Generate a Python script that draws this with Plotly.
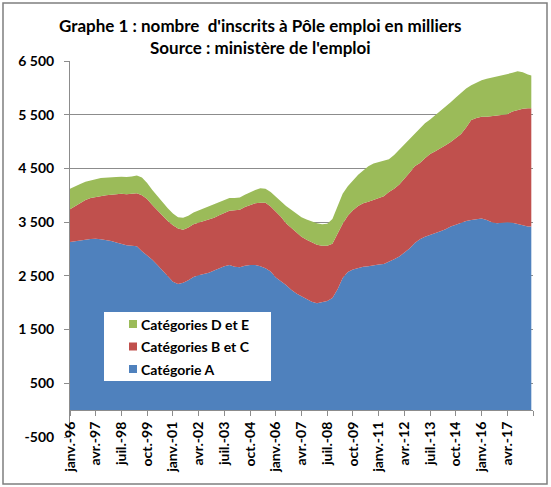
import plotly.graph_objects as go
import pandas as pd

# trimestriel, janv. 1996 -> avr. 2018, plus juin 2018 (en milliers)
dates = list(pd.date_range("1996-01-01", periods=90, freq="QS")) + [pd.Timestamp("2018-06-01")]

cat_a = [3130, 3140, 3160, 3170, 3185, 3190, 3180, 3165, 3150, 3120,
         3090, 3070, 3060, 3050, 2960, 2880, 2800, 2700, 2600, 2480,
         2390, 2350, 2370, 2420, 2480, 2510, 2530, 2560, 2600, 2640,
         2680, 2700, 2670, 2660, 2690, 2700, 2700, 2680, 2640, 2580,
         2470, 2400, 2330, 2240, 2170, 2120, 2070, 2020, 1990, 2010,
         2030, 2090, 2250, 2460, 2570, 2620, 2650, 2670, 2680, 2700,
         2710, 2720, 2760, 2810, 2860, 2930, 3010, 3110, 3180, 3230,
         3260, 3300, 3330, 3370, 3420, 3450, 3490, 3520, 3540, 3560,
         3570, 3540, 3500, 3480, 3490, 3500, 3490, 3460, 3440, 3420,
         3420]
cat_bc = [610, 660, 700, 740, 765, 780, 810, 835, 860, 900,
          940, 950, 970, 990, 1040, 1050, 1020, 1020, 1020, 1040,
          1050, 1030, 990, 980, 980, 980, 990, 990, 980, 990,
          990, 1010, 1050, 1070, 1090, 1120, 1150, 1180, 1220, 1210,
          1230, 1200, 1150, 1160, 1150, 1110, 1100, 1100, 1090, 1050,
          1030, 1010, 1050, 1010, 1050, 1100, 1150, 1180, 1200, 1210,
          1230, 1260, 1300, 1310, 1340, 1370, 1410, 1430, 1420, 1460,
          1510, 1520, 1540, 1560, 1570, 1610, 1650, 1740, 1860, 1880,
          1890, 1920, 1970, 2000, 2000, 2010, 2070, 2130, 2170, 2200,
          2200]
cat_de = [380, 370, 350, 340, 330, 330, 330, 330, 325, 320,
          315, 320, 320, 330, 330, 300, 280, 260, 240, 240,
          220, 210, 220, 220, 220, 230, 240, 250, 250, 240,
          240, 240, 230, 230, 230, 240, 250, 270, 260, 270,
          270, 270, 320, 330, 340, 360, 380, 390, 400, 400,
          410, 460, 500, 560, 550, 560, 580, 610, 660, 680,
          680, 660, 610, 630, 650, 650, 630, 620, 660, 650,
          640, 670, 690, 710, 740, 760, 770, 730, 650, 660,
          680, 710, 720, 730, 740, 740, 720, 720, 680, 630,
          610]

x_tick_dates = list(pd.date_range("1996-01-01", periods=19, freq="15MS"))
x_tick_labels = ["janv.-96", "avr.-97", "juil.-98", "oct.-99", "janv.-01", "avr.-02",
                 "juil.-03", "oct.-04", "janv.-06", "avr.-07", "juil.-08", "oct.-09",
                 "janv.-11", "avr.-12", "juil.-13", "oct.-14", "janv.-16", "avr.-17", ""]
y_ticks = [-500, 500, 1500, 2500, 3500, 4500, 5500, 6500]
y_tick_labels = ["-500", "500", "1 500", "2 500", "3 500", "4 500", "5 500", "6 500"]

title_lines = ["Graphe 1 : nombre  d'inscrits à Pôle emploi en milliers",
               "Source : ministère de l'emploi"]

series = [("Catégorie A", cat_a, "#4F81BD"),
          ("Catégories B et C", cat_bc, "#C0504D"),
          ("Catégories D et E", cat_de, "#9BBB59")]

# conversion pixels -> repère "paper" (zone de tracé 70..533 x 61..437)
def px(x):
    return (x - 70) / 463

def py(y):
    return (437 - y) / 376

fig = go.Figure()
for name, vals, col in series:
    fig.add_trace(go.Scatter(x=dates, y=vals, stackgroup="one", mode="lines",
                             name=name, line=dict(width=0, color=col), fillcolor=col,
                             showlegend=False, hoverinfo="skip"))

grid = "#8C8C8C"
shapes = [dict(type="rect", xref="paper", yref="paper",
               x0=px(3), x1=px(547), y0=py(484), y1=py(3),
               line=dict(color="#7F7F7F", width=1.5), layer="above"),
          dict(type="rect", xref="paper", yref="paper",
               x0=px(104), x1=px(271), y0=py(381), y1=py(312),
               fillcolor="white", line=dict(width=0), layer="above")]

# légende : D et E en haut, A en bas
for i, (name, vals, col) in enumerate(reversed(series)):
    yc = 324 + 22.5 * i
    shapes.append(dict(type="rect", xref="paper", yref="paper",
                       x0=px(129), x1=px(137), y0=py(yc + 4), y1=py(yc - 4),
                       fillcolor=col, line=dict(width=0), layer="above"))
    fig.add_annotation(text=f"<b>{name}</b>", xref="paper", yref="paper",
                       x=px(138.5), y=py(yc), xanchor="left", yanchor="middle",
                       showarrow=False, font=dict(size=14, family="Lato"))

fig.update_layout(
    width=551, height=487,
    margin=dict(l=70, r=18, t=61, b=50),
    paper_bgcolor="white", plot_bgcolor="white",
    font=dict(family="Lato", color="black"),
    showlegend=False,
    xaxis=dict(type="date", range=["1996-01-01", "2018-07-01"],
               anchor="free", position=500 / 7000,
               showgrid=False, zeroline=False,
               showline=True, linecolor=grid, linewidth=1,
               ticks="outside", ticklen=5, tickcolor=grid,
               tickvals=x_tick_dates, ticktext=x_tick_labels, tickangle=-90,
               tickfont=dict(size=14, family="Lato", weight="bold")),
    yaxis=dict(range=[-500, 6500], tickvals=y_ticks, ticktext=y_tick_labels,
               showgrid=True, gridcolor=grid, gridwidth=1, zeroline=False,
               showline=True, linecolor=grid, linewidth=1,
               ticks="outside", ticklen=5, tickcolor=grid, ticklabelstandoff=7,
               tickfont=dict(size=14, family="Lato", weight="bold")),
    shapes=shapes,
)

for i, line in enumerate(title_lines):
    fig.add_annotation(text=f"<b>{line}</b>", xref="paper", yref="paper",
                       x=px(260), y=py(25 + 22 * i),
                       xanchor="center", yanchor="middle", showarrow=False,
                       font=dict(size=17, family="Lato"))

fig.write_html("out.html", config={"displayModeBar": False},
               post_script="document.body.style.margin='0';")
